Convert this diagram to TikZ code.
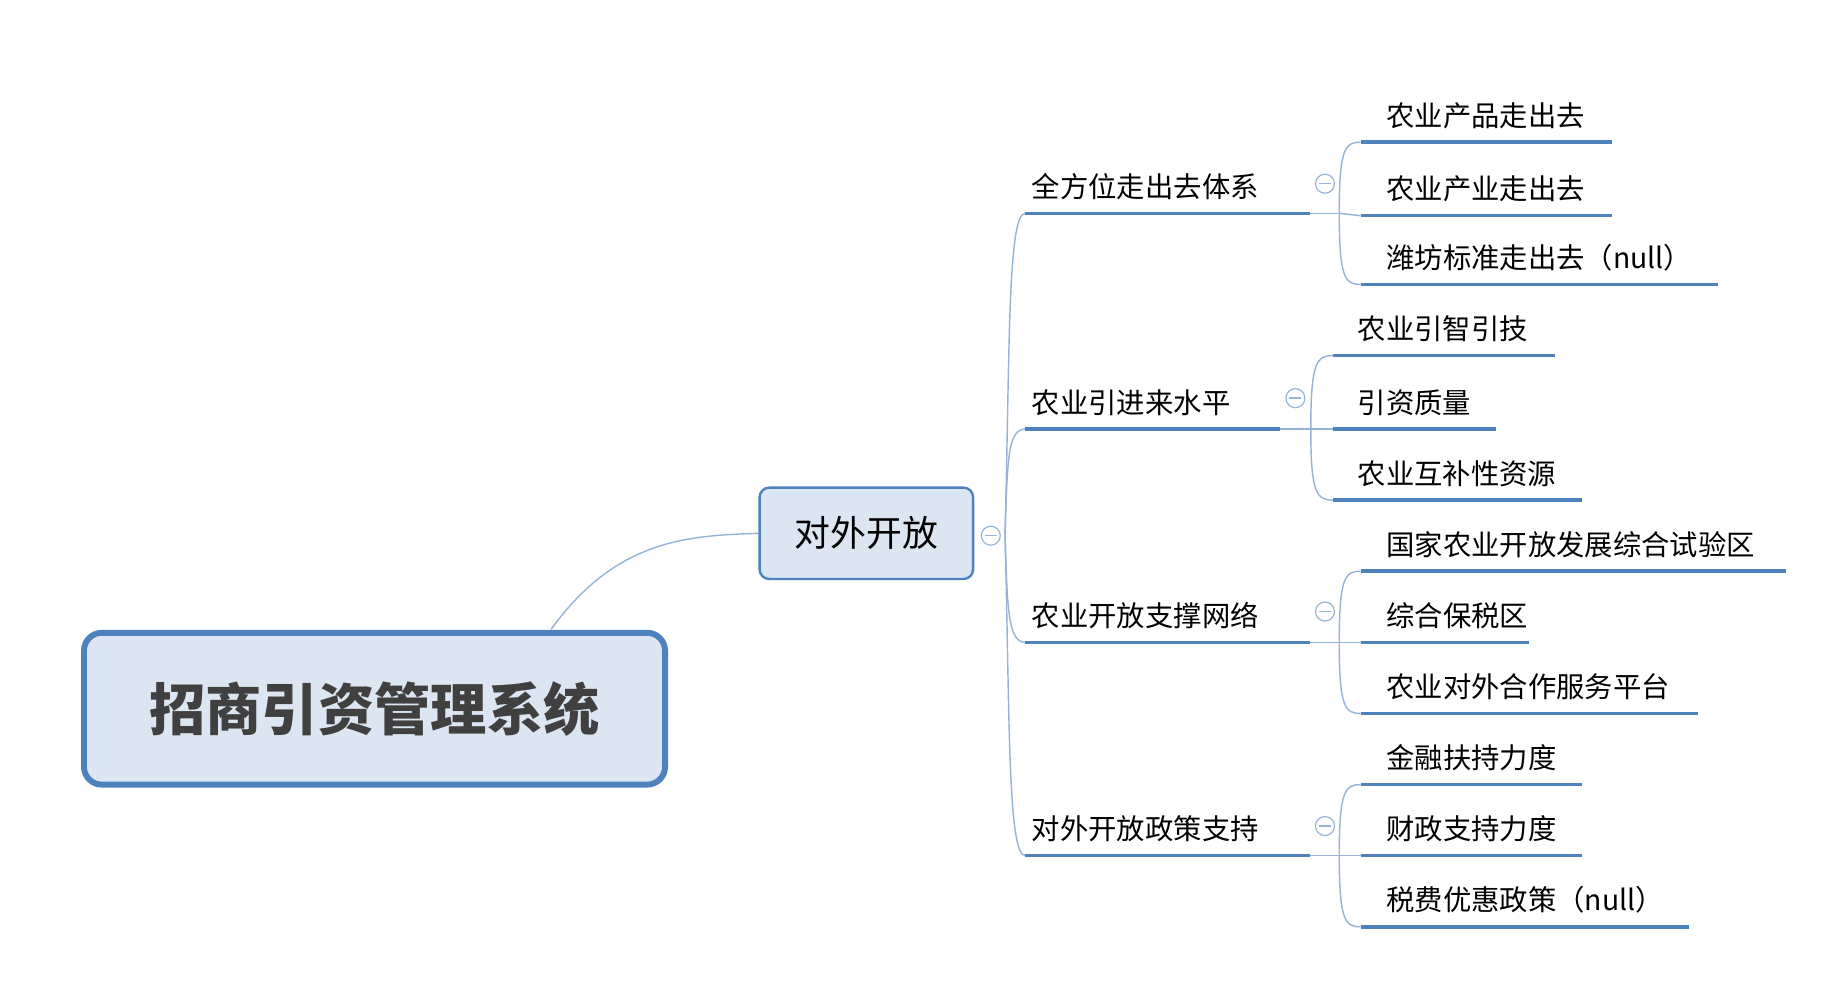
\documentclass[tikz,border=0pt]{standalone}
\usepackage{fontspec}
\setmainfont{Noto Sans CJK SC}
\definecolor{bluedge}{HTML}{4F81BD}
\definecolor{bluelink}{HTML}{95B3D7}
\definecolor{bluefill}{HTML}{DCE6F2}
\tikzset{
  leaf/.style={anchor=south west, inner xsep=2pt, inner ysep=3pt, font=\fontsize{6.8}{8}\selectfont},
  under/.style={line width=0.03cm, draw=bluedge},
  link/.style={line width=0.012cm, draw=bluelink},
  fold/.style={circle, draw=bluelink, line width=0.01cm, minimum size=0.16cm, inner sep=0pt}
}
\begin{document}
\begin{tikzpicture}[x=0.01cm, y=-0.01cm]
\useasboundingbox (0,0) rectangle (1550,840);

% Drawing root box
\node (root) [draw=bluedge, line width=0.05cm, fill=bluefill, rounded corners=0.15cm,
  minimum width=4.9cm, minimum height=1.28cm, font=\bfseries\fontsize{13.5}{15}\selectfont,
  text=black!75] at (316,598) {招商引资管理系统};

% Drawing main branch
\node (open) [draw=bluedge, line width=0.02cm, fill=bluefill, rounded corners=0.08cm,
  minimum width=1.8cm, minimum height=0.77cm, font=\fontsize{8.6}{10}\selectfont] at (731,450) {对外开放};
\draw [link] (465,531) .. controls (520,455) and (580,452) .. (open.west);
\node (f0) [fold] at (836,452) {};
\draw [link] (f0.center)++(-0.05cm,0) -- ++(0.1cm,0);

% Drawing second level
\coordinate (j0) at (848,452);
\node (a) [leaf] at (863,180) {全方位走出去体系};
\node (b) [leaf] at (863,362) {农业引进来水平};
\node (c) [leaf] at (863,542) {农业开放支撑网络};
\node (d) [leaf] at (863,722) {对外开放政策支持};
\draw [under] (865,180) -- (1105,180);
\draw [under] (865,362) -- (1080,362);
\draw [under] (865,542) -- (1105,542);
\draw [under] (865,722) -- (1105,722);
\draw [link] (j0) .. controls (852,300) and (850,180) .. (865,180);
\draw [link] (j0) .. controls (850,390) and (850,362) .. (865,362);
\draw [link] (j0) .. controls (850,510) and (850,542) .. (865,542);
\draw [link] (j0) .. controls (852,600) and (850,722) .. (865,722);

% Drawing fold markers
\node (fa) [fold] at (1118,155) {};
\node (fb) [fold] at (1093,336) {};
\node (fc) [fold] at (1118,516) {};
\node (fd) [fold] at (1118,697) {};
\foreach \f in {fa,fb,fc,fd}
  \draw [link] (\f.center)++(-0.05cm,0) -- ++(0.1cm,0);

% Drawing leaves of a
\node (a1) [leaf] at (1162,120) {农业产品走出去};
\node (a2) [leaf] at (1162,182) {农业产业走出去};
\node (a3) [leaf] at (1162,240) {潍坊标准走出去（null）};
\draw [under] (1148,120) -- (1360,120);
\draw [under] (1148,182) -- (1360,182);
\draw [under] (1148,240) -- (1450,240);
\draw [link] (1105,180) -- (1130,180);
\draw [link] (1130,180) .. controls (1130,125) and (1135,120) .. (1148,120);
\draw [link] (1130,180) -- (1148,182);
\draw [link] (1130,180) .. controls (1130,235) and (1135,240) .. (1148,240);

% Drawing leaves of b
\node (b1) [leaf] at (1138,300) {农业引智引技};
\node (b2) [leaf] at (1138,362) {引资质量};
\node (b3) [leaf] at (1138,422) {农业互补性资源};
\draw [under] (1125,300) -- (1312,300);
\draw [under] (1125,362) -- (1262,362);
\draw [under] (1125,422) -- (1335,422);
\draw [link] (1080,362) -- (1106,362);
\draw [link] (1106,362) .. controls (1106,305) and (1111,300) .. (1125,300);
\draw [link] (1106,362) -- (1125,362);
\draw [link] (1106,362) .. controls (1106,417) and (1111,422) .. (1125,422);

% Drawing leaves of c
\node (c1) [leaf] at (1162,482) {国家农业开放发展综合试验区};
\node (c2) [leaf] at (1162,542) {综合保税区};
\node (c3) [leaf] at (1162,602) {农业对外合作服务平台};
\draw [under] (1148,482) -- (1507,482);
\draw [under] (1148,542) -- (1290,542);
\draw [under] (1148,602) -- (1433,602);
\draw [link] (1105,542) -- (1130,542);
\draw [link] (1130,542) .. controls (1130,487) and (1135,482) .. (1148,482);
\draw [link] (1130,542) -- (1148,542);
\draw [link] (1130,542) .. controls (1130,597) and (1135,602) .. (1148,602);

% Drawing leaves of d
\node (d1) [leaf] at (1162,662) {金融扶持力度};
\node (d2) [leaf] at (1162,722) {财政支持力度};
\node (d3) [leaf] at (1162,782) {税费优惠政策（null）};
\draw [under] (1148,662) -- (1335,662);
\draw [under] (1148,722) -- (1335,722);
\draw [under] (1148,782) -- (1425,782);
\draw [link] (1105,722) -- (1130,722);
\draw [link] (1130,722) .. controls (1130,667) and (1135,662) .. (1148,662);
\draw [link] (1130,722) -- (1148,722);
\draw [link] (1130,722) .. controls (1130,777) and (1135,782) .. (1148,782);
\end{tikzpicture}
\end{document}
